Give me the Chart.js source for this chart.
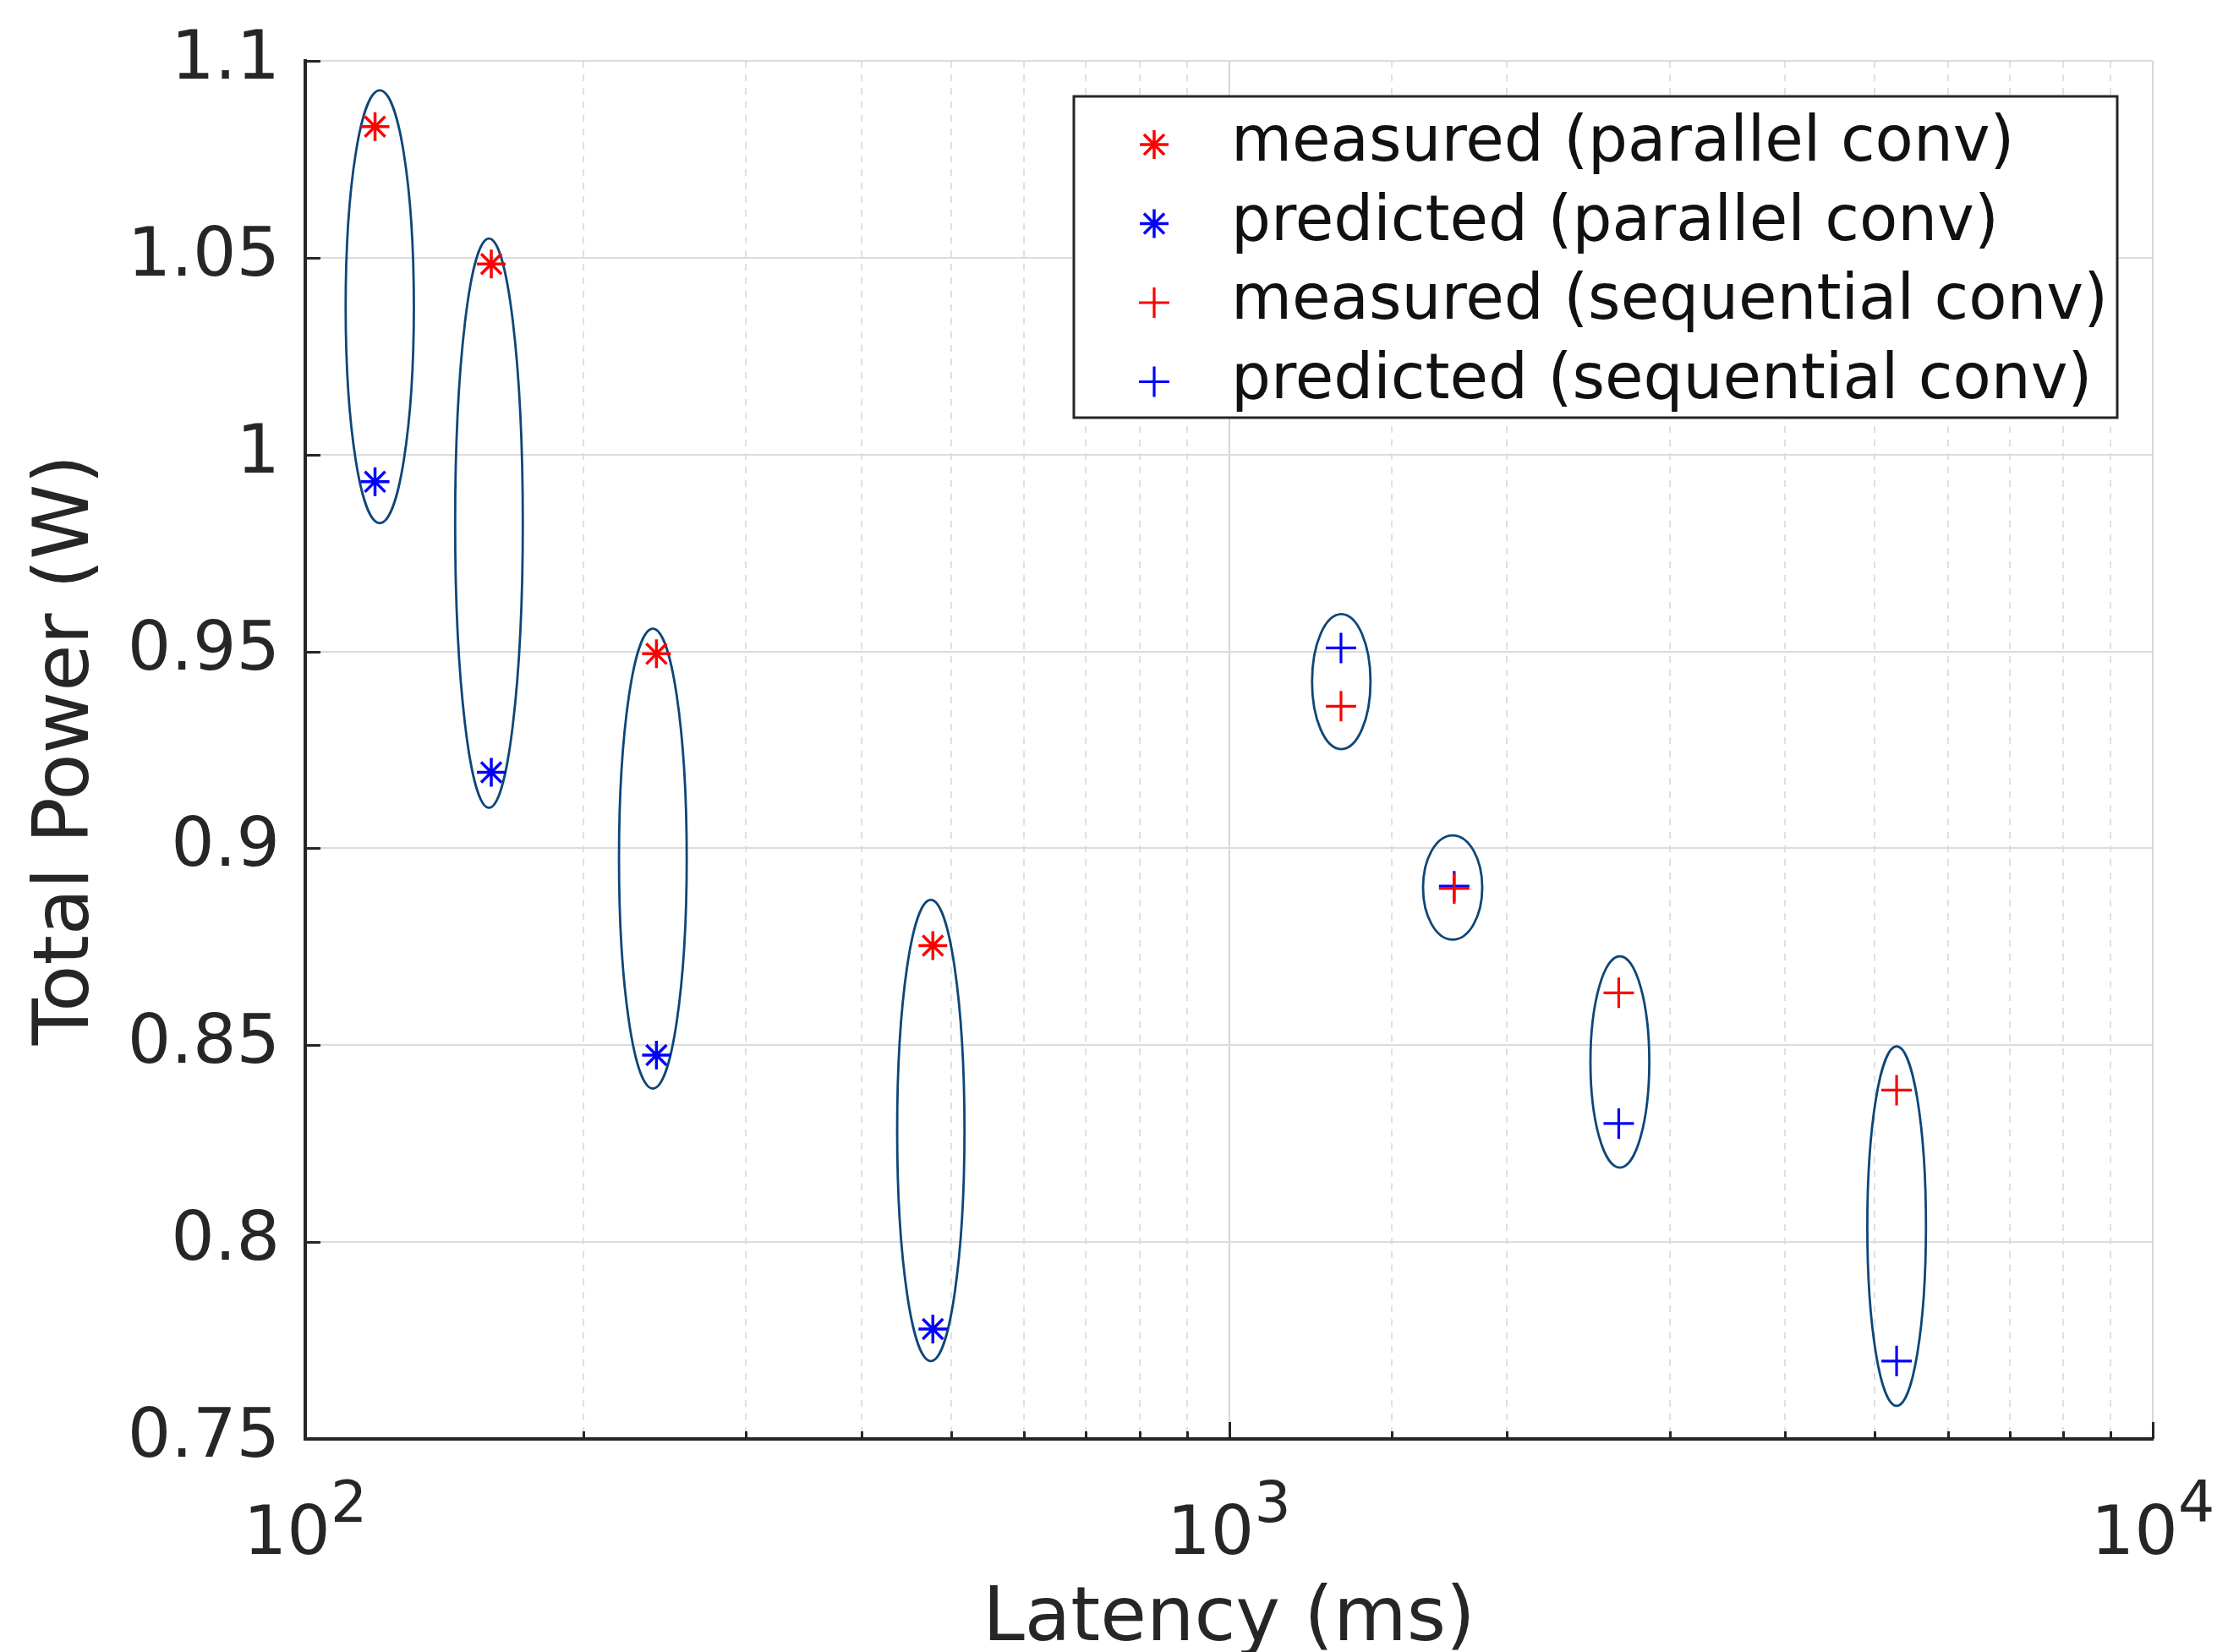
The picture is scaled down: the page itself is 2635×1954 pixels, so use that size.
<!DOCTYPE html>
<html>
<head>
<meta charset="utf-8">
<title>Total Power vs Latency</title>
<script src="https://cdn.jsdelivr.net/npm/chart.js@4.4.1/dist/chart.umd.min.js"></script>
<style>
  html, body { margin: 0; padding: 0; background: #fff; overflow: hidden; }
  canvas { display: block; }
</style>
</head>
<body>
<canvas id="powerChart" width="2635" height="1990"></canvas>
<script>
// parallel conv configs
const parLatency = [119, 159, 240, 478];
const parMeasured = [1.0833, 1.0484, 0.9494, 0.8753];
const parPredicted = [0.9931, 0.9193, 0.8475, 0.7779];

// sequential conv configs
const seqLatency = [1322, 1753, 2642, 5281];
const seqMeasured = [0.9361, 0.8898, 0.8633, 0.8386];
const seqPredicted = [0.9509, 0.8904, 0.8301, 0.7698];

// ellipses grouping each measured/predicted pair
const ellipseLeft = [110.6, 145.3, 218.6, 437.3, 1230, 1622, 2462, 4909];
const ellipseRight = [131.1, 172.0, 258.8, 517.2, 1423, 1880, 2851, 5682];
const ellipseTop = [1.0925, 1.0549, 0.9558, 0.8869, 0.9595, 0.9033, 0.8726, 0.8497];
const ellipseBottom = [0.9826, 0.9103, 0.8390, 0.7698, 0.9252, 0.8768, 0.8189, 0.7584];

const xTickExponents = [2, 3, 4];
const seriesLabels = ['measured (parallel conv)', 'predicted (parallel conv)',
                      'measured (sequential conv)', 'predicted (sequential conv)'];

const AXIS = '#262626';
const isDecade = v => Math.abs(Math.log10(v) - Math.round(Math.log10(v))) < 1e-9;
const pts = (xs, ys) => xs.map((x, i) => ({ x, y: ys[i] }));

const ellipsePlugin = {
  id: 'groupEllipses',
  beforeDatasetsDraw(chart) {
    const { ctx, scales: { x, y } } = chart;
    ctx.save();
    ctx.strokeStyle = '#0d4679';
    ctx.lineWidth = 2.8;
    ellipseLeft.forEach((l, i) => {
      const x1 = x.getPixelForValue(l), x2 = x.getPixelForValue(ellipseRight[i]);
      const y1 = y.getPixelForValue(ellipseTop[i]), y2 = y.getPixelForValue(ellipseBottom[i]);
      ctx.beginPath();
      ctx.ellipse((x1 + x2) / 2, (y1 + y2) / 2, (x2 - x1) / 2, (y2 - y1) / 2, 0, 0, Math.PI * 2);
      ctx.stroke();
    });
    ctx.restore();
  }
};

// inward tick marks + 10^n labels on the x axis
const axisDecor = {
  id: 'axisDecor',
  afterDatasetsDraw(chart) {
    const { ctx, chartArea, scales: { x, y } } = chart;
    ctx.save();
    ctx.strokeStyle = AXIS;
    ctx.lineWidth = 3;
    ctx.beginPath();
    y.ticks.forEach(t => {
      const py = Math.round(y.getPixelForValue(t.value)) + 0.5;
      ctx.moveTo(chartArea.left, py);
      ctx.lineTo(chartArea.left + 18, py);
    });
    x.ticks.forEach(t => {
      const px = Math.round(x.getPixelForValue(t.value)) + 0.5;
      const len = isDecade(t.value) ? 20 : 9;
      ctx.moveTo(px, chartArea.bottom);
      ctx.lineTo(px, chartArea.bottom - len);
    });
    ctx.stroke();

    ctx.fillStyle = AXIS;
    ctx.textBaseline = 'alphabetic';
    ctx.textAlign = 'left';
    xTickExponents.forEach(e => {
      const px = x.getPixelForValue(Math.pow(10, e));
      ctx.font = '81px "DejaVu Sans"';
      const wBase = ctx.measureText('10').width;
      ctx.font = '68px "DejaVu Sans"';
      const wSup = ctx.measureText(String(e)).width;
      const start = px - (wBase + wSup) / 2;
      ctx.font = '81px "DejaVu Sans"';
      ctx.fillText('10', start, chartArea.bottom + 136);
      ctx.font = '68px "DejaVu Sans"';
      ctx.fillText(String(e), start + wBase, chartArea.bottom + 98);
    });
    ctx.restore();
  }
};

const legendBox = {
  id: 'legendBox',
  afterDraw(chart) {
    const { ctx, chartArea } = chart;
    const w = 1234, h = 380;
    const right = chartArea.right - 42, top = chartArea.top + 42;
    const left = right - w;
    ctx.save();
    ctx.fillStyle = '#fff';
    ctx.fillRect(left, top, w, h);
    ctx.strokeStyle = AXIS;
    ctx.lineWidth = 3;
    ctx.strokeRect(left, top, w, h);
    ctx.font = '74px "DejaVu Sans"';
    ctx.textBaseline = 'middle';
    ctx.textAlign = 'left';
    chart.data.datasets.forEach((ds, i) => {
      const cy = top + 57 + i * 93.5;
      ctx.strokeStyle = ds.borderColor;
      ctx.fillStyle = ds.borderColor;
      ctx.lineWidth = ds.borderWidth;
      Chart.helpers.drawPoint(ctx, {
        pointStyle: ds.pointStyle, radius: ds.pointRadius, rotation: 0, borderWidth: ds.borderWidth
      }, left + 95, cy);
      ctx.fillStyle = '#111';
      ctx.fillText(ds.label, left + 186, cy);
    });
    ctx.restore();
  }
};

// keep the plot box exactly where the fixed layout puts it
const noPad = s => { s.paddingTop = 0; s.paddingBottom = 0; s.paddingLeft = 0; s.paddingRight = 0; };

Chart.defaults.font.family = '"DejaVu Sans"';
Chart.defaults.color = AXIS;

new Chart(document.getElementById('powerChart'), {
  type: 'scatter',
  data: {
    datasets: [
      { label: seriesLabels[0], data: pts(parLatency, parMeasured), pointStyle: 'star',
        pointRadius: 17, borderWidth: 3.5, borderColor: '#ff0000', backgroundColor: '#ff0000' },
      { label: seriesLabels[1], data: pts(parLatency, parPredicted), pointStyle: 'star',
        pointRadius: 17, borderWidth: 3.5, borderColor: '#0000ff', backgroundColor: '#0000ff' },
      { label: seriesLabels[2], data: pts(seqLatency, seqMeasured), pointStyle: 'cross',
        pointRadius: 18, borderWidth: 3.2, borderColor: '#ff0000', backgroundColor: '#ff0000' },
      { label: seriesLabels[3], data: pts(seqLatency, seqPredicted), pointStyle: 'cross',
        pointRadius: 18, borderWidth: 3.2, borderColor: '#0000ff', backgroundColor: '#0000ff' }
    ]
  },
  options: {
    responsive: false,
    animation: false,
    layout: { padding: { top: 72, right: 89, left: 0, bottom: 0 } },
    plugins: { legend: { display: false }, tooltip: { enabled: false } },
    scales: {
      x: {
        type: 'logarithmic',
        min: 100,
        max: 10000,
        afterFit: s => { s.height = 288; noPad(s); },
        ticks: { display: false },
        grid: {
          drawTicks: false,
          lineWidth: 2,
          color: c => (c.tick && isDecade(c.tick.value)) ? '#d6d6d6' : '#e0e0e0'
        },
        border: {
          color: AXIS,
          width: 4,
          dash: c => (c.tick && !isDecade(c.tick.value)) ? [8, 8] : []
        },
        title: {
          display: true,
          text: 'Latency (ms)',
          color: AXIS,
          font: { size: 89 },
          padding: { bottom: 20 }
        }
      },
      y: {
        min: 0.75,
        max: 1.1,
        afterFit: s => { s.width = 361; noPad(s); },
        ticks: {
          stepSize: 0.05,
          padding: 30,
          color: AXIS,
          font: { size: 81 },
          callback: v => String(+v.toFixed(2))
        },
        grid: { drawTicks: false, lineWidth: 2, color: '#dcdcdc' },
        border: { color: AXIS, width: 4 },
        title: {
          display: true,
          text: 'Total Power (W)',
          color: AXIS,
          font: { size: 90 },
          padding: { top: 27 }
        }
      }
    }
  },
  plugins: [ellipsePlugin, axisDecor, legendBox]
});
</script>
</body>
</html>
